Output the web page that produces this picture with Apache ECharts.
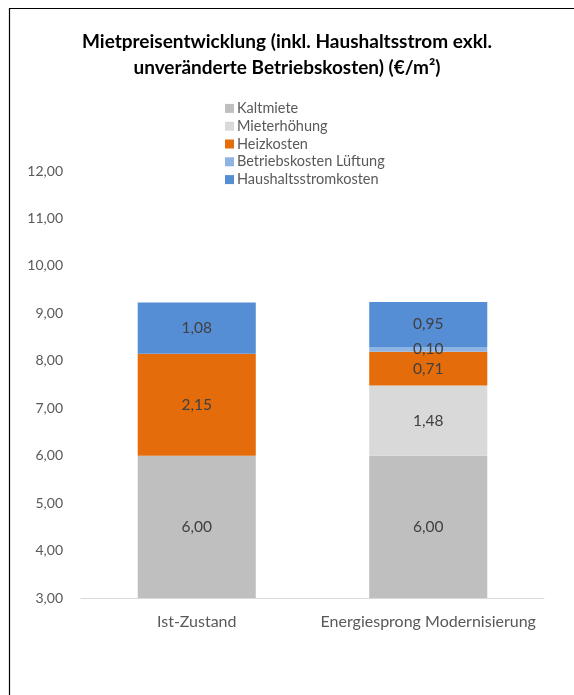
<!DOCTYPE html>
<html>
<head>
<meta charset="utf-8">
<script src="https://cdn.jsdelivr.net/npm/echarts@6/dist/echarts.min.js"></script>
<style>
  html, body { margin: 0; padding: 0; background: #ffffff; }
  #chart { width: 574px; height: 695px; }
</style>
</head>
<body>
<div id="chart"></div>
<script>
// Kategorien und Kostenbestandteile (€/m²)
const categories = ['Ist-Zustand', 'Energiesprong Modernisierung'];
const kaltmiete = [6.00, 6.00];
const mieterhoehung = [null, 1.48];
const heizkosten = [2.15, 0.71];
const betriebskostenLueftung = [null, 0.10];
const haushaltsstromkosten = [1.08, 0.95];

const seriesNames = ['Kaltmiete', 'Mieterhöhung', 'Heizkosten', 'Betriebskosten Lüftung', 'Haushaltsstromkosten'];
const seriesColors = ['#BFBFBF', '#D9D9D9', '#E46C0A', '#8EB4E3', '#558ED5'];
const seriesData = [kaltmiete, mieterhoehung, heizkosten, betriebskostenLueftung, haushaltsstromkosten];

const fontFamily = 'Lato, "Open Sans", sans-serif';
const fmt = v => Number(v).toFixed(2).replace('.', ',');

const chart = echarts.init(document.getElementById('chart'), null, { renderer: 'canvas' });

chart.setOption({
  animation: false,
  backgroundColor: '#ffffff',
  textStyle: { fontFamily: fontFamily },
  graphic: [{
    type: 'rect',
    left: 7, top: 6,
    shape: { width: 700, height: 800 },
    style: { fill: 'none', stroke: '#000000', lineWidth: 1.2 },
    silent: true
  }],
  title: {
    text: 'Mietpreisentwicklung (inkl. Haushaltsstrom exkl.\nunveränderte Betriebskosten) (€/m²)',
    left: 'center',
    top: 24,
    textStyle: {
      fontFamily: fontFamily,
      fontSize: 19,
      fontWeight: 'bold',
      color: '#000000',
      lineHeight: 26
    }
  },
  legend: {
    orient: 'vertical',
    left: 220,
    top: 95,
    itemWidth: 9,
    itemHeight: 9,
    itemGap: 1,
    icon: 'rect',
    data: seriesNames,
    textStyle: { fontSize: 14.5, color: '#595959', lineHeight: 16.8, padding: [0, 0, 0, -2] }
  },
  grid: { left: 81, right: 30, top: 171, bottom: 97, containLabel: false },
  xAxis: {
    type: 'category',
    data: categories,
    axisLine: { lineStyle: { color: '#D9D9D9', width: 1 } },
    axisTick: { show: false },
    axisLabel: { fontSize: 16, color: '#595959', margin: 16, interval: 0, hideOverlap: false }
  },
  yAxis: {
    type: 'value',
    min: 3,
    max: 12,
    interval: 1,
    splitLine: { show: false },
    axisLine: { show: false },
    axisTick: { show: false },
    axisLabel: { fontSize: 14, color: '#595959', margin: 18, formatter: fmt }
  },
  series: seriesNames.map((name, i) => ({
    name: name,
    type: 'bar',
    stack: 'total',
    barWidth: '51%',
    data: seriesData[i],
    itemStyle: { color: seriesColors[i] },
    label: {
      show: true,
      position: 'inside',
      fontSize: 15.5,
      color: '#404040',
      formatter: p => p.value == null ? '' : fmt(p.value)
    }
  }))
});
</script>
</body>
</html>
